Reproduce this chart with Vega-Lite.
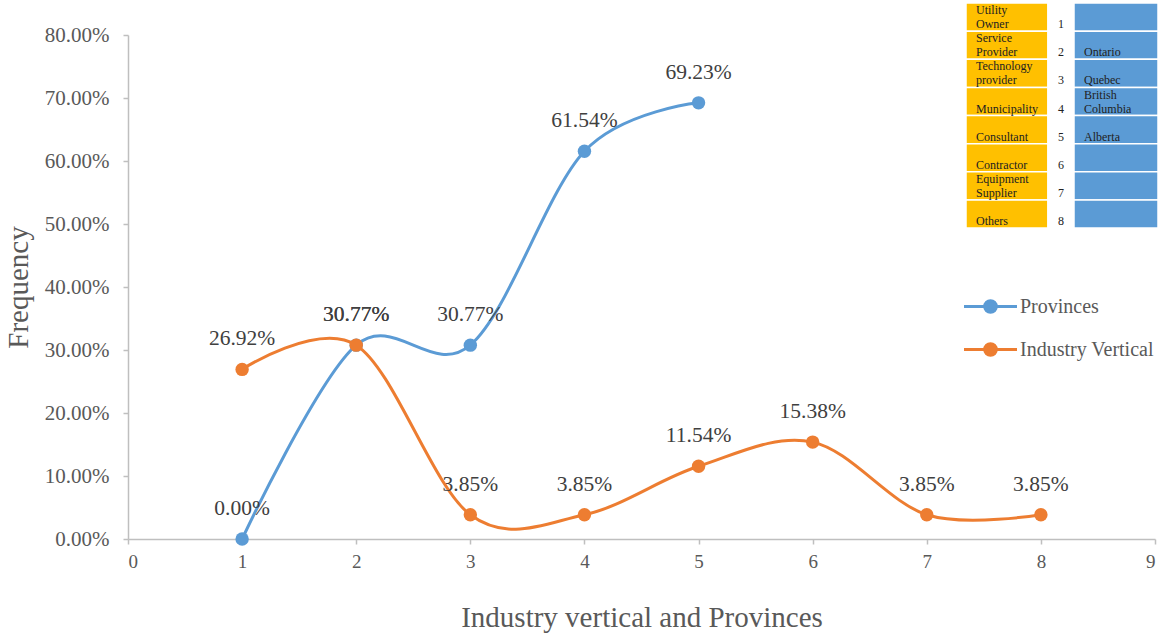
{
  "$schema": "https://vega.github.io/schema/vega-lite/v6.json",
  "width": 1027,
  "height": 504,
  "autosize": {"type": "none"},
  "padding": {"left": 128, "top": 35, "right": 13, "bottom": 95},
  "background": "white",
  "config": {"view": {"stroke": null}, "font": "Liberation Serif"},
  "datasets": {
    "series": [
      {"series": "Provinces", "x": 1, "y": 0},
      {"series": "Provinces", "x": 2, "y": 0.3077},
      {"series": "Provinces", "x": 3, "y": 0.3077},
      {"series": "Provinces", "x": 4, "y": 0.6154},
      {"series": "Provinces", "x": 5, "y": 0.6923},
      {"series": "Industry Vertical", "x": 1, "y": 0.2692},
      {"series": "Industry Vertical", "x": 2, "y": 0.3077},
      {"series": "Industry Vertical", "x": 3, "y": 0.0385},
      {"series": "Industry Vertical", "x": 4, "y": 0.0385},
      {"series": "Industry Vertical", "x": 5, "y": 0.1154},
      {"series": "Industry Vertical", "x": 6, "y": 0.1538},
      {"series": "Industry Vertical", "x": 7, "y": 0.0385},
      {"series": "Industry Vertical", "x": 8, "y": 0.0385}
    ],
    "table": [
      {"r": 1, "industryTop": "Utility", "industry": "Owner", "num": "1", "provTop": "", "prov": ""},
      {"r": 2, "industryTop": "Service", "industry": "Provider", "num": "2", "provTop": "", "prov": "Ontario"},
      {"r": 3, "industryTop": "Technology", "industry": "provider", "num": "3", "provTop": "", "prov": "Quebec"},
      {"r": 4, "industryTop": "", "industry": "Municipality", "num": "4", "provTop": "British", "prov": "Columbia"},
      {"r": 5, "industryTop": "", "industry": "Consultant", "num": "5", "provTop": "", "prov": "Alberta"},
      {"r": 6, "industryTop": "", "industry": "Contractor", "num": "6", "provTop": "", "prov": ""},
      {"r": 7, "industryTop": "Equipment", "industry": "Supplier", "num": "7", "provTop": "", "prov": ""},
      {"r": 8, "industryTop": "", "industry": "Others", "num": "8", "provTop": "", "prov": ""}
    ]
  },
  "layer": [
    {
      "data": {"name": "series"},
      "encoding": {
        "x": {
          "field": "x", "type": "quantitative",
          "scale": {"domain": [0, 9], "nice": false, "zero": false},
          "axis": {
            "values": [0, 1, 2, 3, 4, 5, 6, 7, 8, 9], "grid": false,
            "domainColor": "#bfbfbf", "domainWidth": 1.5, "tickColor": "#bfbfbf", "tickWidth": 1.5, "tickSize": 5,
            "labelFontSize": 19, "labelColor": "#595959", "labelPadding": 8, "labelFont": "Liberation Serif",
            "title": "Industry vertical and Provinces", "titleFontSize": 29, "titleFontWeight": "normal",
            "titleColor": "#595959", "titlePadding": 32, "titleFont": "Liberation Serif"
          }
        },
        "y": {
          "field": "y", "type": "quantitative",
          "scale": {"domain": [0, 0.8], "nice": false, "zero": false},
          "axis": {
            "values": [0, 0.1, 0.2, 0.3, 0.4, 0.5, 0.6, 0.7, 0.8], "format": ".2%", "grid": false,
            "domainColor": "#bfbfbf", "domainWidth": 1.5, "tickColor": "#bfbfbf", "tickWidth": 1.5, "tickSize": 5,
            "labelFontSize": 21, "labelColor": "#595959", "labelPadding": 14, "labelFont": "Liberation Serif",
            "title": "Frequency", "titleFontSize": 29, "titleFontWeight": "normal",
            "titleColor": "#595959", "titlePadding": 11, "titleFont": "Liberation Serif"
          }
        }
      },
      "layer": [
        {
          "transform": [{"filter": "datum.series === 'Provinces'"}],
          "mark": {"type": "line", "interpolate": "cardinal", "strokeWidth": 3},
          "encoding": {
            "color": {
              "field": "series", "type": "nominal",
              "scale": {"domain": ["Provinces", "Industry Vertical"], "range": ["#5b9bd5", "#ed7d31"]},
              "legend": {
                "orient": "none", "legendX": 850, "legendY": 259, "title": null, "padding": 0,
                "symbolType": "M-2.5,0L2.5,0M0.55,0A0.55,0.55,0,1,1,-0.55,0A0.55,0.55,0,1,1,0.55,0Z",
                "symbolSize": 449, "symbolStrokeWidth": 3, "symbolOpacity": 1,
                "labelFontSize": 20, "labelColor": "#595959", "labelFont": "Liberation Serif",
                "labelOffset": 17, "rowPadding": 18, "labelLimit": 300,
                "encode": {"symbols": {"update": {
                  "fill": {"scale": "color", "field": "value"},
                  "stroke": {"scale": "color", "field": "value"},
                  "strokeWidth": {"value": 3}
                }}}
              }
            }
          }
        },
        {
          "transform": [{"filter": "datum.series === 'Provinces'"}],
          "mark": {"type": "point", "filled": true, "size": 180, "opacity": 1, "color": "#5b9bd5"}
        },
        {
          "transform": [{"filter": "datum.series === 'Industry Vertical'"}],
          "mark": {"type": "line", "interpolate": "cardinal", "strokeWidth": 3},
          "encoding": {
            "color": {
              "field": "series", "type": "nominal",
              "scale": {"domain": ["Provinces", "Industry Vertical"], "range": ["#5b9bd5", "#ed7d31"]},
              "legend": {
                "orient": "none", "legendX": 850, "legendY": 259, "title": null, "padding": 0,
                "symbolType": "M-2.5,0L2.5,0M0.55,0A0.55,0.55,0,1,1,-0.55,0A0.55,0.55,0,1,1,0.55,0Z",
                "symbolSize": 449, "symbolStrokeWidth": 3, "symbolOpacity": 1,
                "labelFontSize": 20, "labelColor": "#595959", "labelFont": "Liberation Serif",
                "labelOffset": 17, "rowPadding": 18, "labelLimit": 300,
                "encode": {"symbols": {"update": {
                  "fill": {"scale": "color", "field": "value"},
                  "stroke": {"scale": "color", "field": "value"},
                  "strokeWidth": {"value": 3}
                }}}
              }
            }
          }
        },
        {
          "transform": [{"filter": "datum.series === 'Industry Vertical'"}],
          "mark": {"type": "point", "filled": true, "size": 180, "opacity": 1, "color": "#ed7d31"}
        },
        {
          "mark": {"type": "text", "dy": -30, "baseline": "middle", "fontSize": 21.5, "color": "#404040", "font": "Liberation Serif"},
          "encoding": {"text": {"field": "y", "type": "quantitative", "format": ".2%"}}
        }
      ]
    },
    {
      "data": {"name": "table"},
      "layer": [
        {
          "mark": {"type": "rect", "color": "#ffc000", "stroke": "#ffffff", "strokeWidth": 1.5},
          "encoding": {
            "x": {"datum": 0, "type": "quantitative", "scale": {"domain": [0, 1, 2, 3], "range": [838, 920, 946, 1030], "nice": false, "zero": false}, "axis": null},
            "x2": {"datum": 1},
            "y": {"field": "r", "type": "ordinal", "scale": {"range": [-32, 193], "paddingInner": 0, "paddingOuter": 0}, "axis": null}
          }
        },
        {
          "mark": {"type": "rect", "color": "#ffffff", "stroke": "#ffffff", "strokeWidth": 1.5},
          "encoding": {
            "x": {"datum": 1, "type": "quantitative", "scale": {"domain": [0, 1, 2, 3], "range": [838, 920, 946, 1030], "nice": false, "zero": false}, "axis": null},
            "x2": {"datum": 2},
            "y": {"field": "r", "type": "ordinal", "scale": {"range": [-32, 193], "paddingInner": 0, "paddingOuter": 0}, "axis": null}
          }
        },
        {
          "mark": {"type": "rect", "color": "#5b9bd5", "stroke": "#ffffff", "strokeWidth": 1.5},
          "encoding": {
            "x": {"datum": 2, "type": "quantitative", "scale": {"domain": [0, 1, 2, 3], "range": [838, 920, 946, 1030], "nice": false, "zero": false}, "axis": null},
            "x2": {"datum": 3},
            "y": {"field": "r", "type": "ordinal", "scale": {"range": [-32, 193], "paddingInner": 0, "paddingOuter": 0}, "axis": null}
          }
        },
        {
          "mark": {"type": "text", "align": "left", "baseline": "alphabetic", "dx": 10, "dy": -3, "fontSize": 12, "color": "#222222", "font": "Liberation Serif"},
          "encoding": {
            "x": {"datum": 0, "type": "quantitative", "axis": null},
            "y": {"field": "r", "type": "ordinal", "bandPosition": 1, "axis": null},
            "text": {"field": "industry", "type": "nominal"}
          }
        },
        {
          "mark": {"type": "text", "align": "left", "baseline": "alphabetic", "dx": 10, "dy": -17, "fontSize": 12, "color": "#222222", "font": "Liberation Serif"},
          "encoding": {
            "x": {"datum": 0, "type": "quantitative", "axis": null},
            "y": {"field": "r", "type": "ordinal", "bandPosition": 1, "axis": null},
            "text": {"field": "industryTop", "type": "nominal"}
          }
        },
        {
          "mark": {"type": "text", "align": "center", "baseline": "alphabetic", "dy": -3, "fontSize": 12, "color": "#222222", "font": "Liberation Serif"},
          "encoding": {
            "x": {"datum": 1.5, "type": "quantitative", "axis": null},
            "y": {"field": "r", "type": "ordinal", "bandPosition": 1, "axis": null},
            "text": {"field": "num", "type": "nominal"}
          }
        },
        {
          "mark": {"type": "text", "align": "left", "baseline": "alphabetic", "dx": 10, "dy": -3, "fontSize": 12, "color": "#222222", "font": "Liberation Serif"},
          "encoding": {
            "x": {"datum": 2, "type": "quantitative", "axis": null},
            "y": {"field": "r", "type": "ordinal", "bandPosition": 1, "axis": null},
            "text": {"field": "prov", "type": "nominal"}
          }
        },
        {
          "mark": {"type": "text", "align": "left", "baseline": "alphabetic", "dx": 10, "dy": -17, "fontSize": 12, "color": "#222222", "font": "Liberation Serif"},
          "encoding": {
            "x": {"datum": 2, "type": "quantitative", "axis": null},
            "y": {"field": "r", "type": "ordinal", "bandPosition": 1, "axis": null},
            "text": {"field": "provTop", "type": "nominal"}
          }
        }
      ]
    }
  ],
  "resolve": {"scale": {"x": "independent", "y": "independent", "color": "shared"}}
}
